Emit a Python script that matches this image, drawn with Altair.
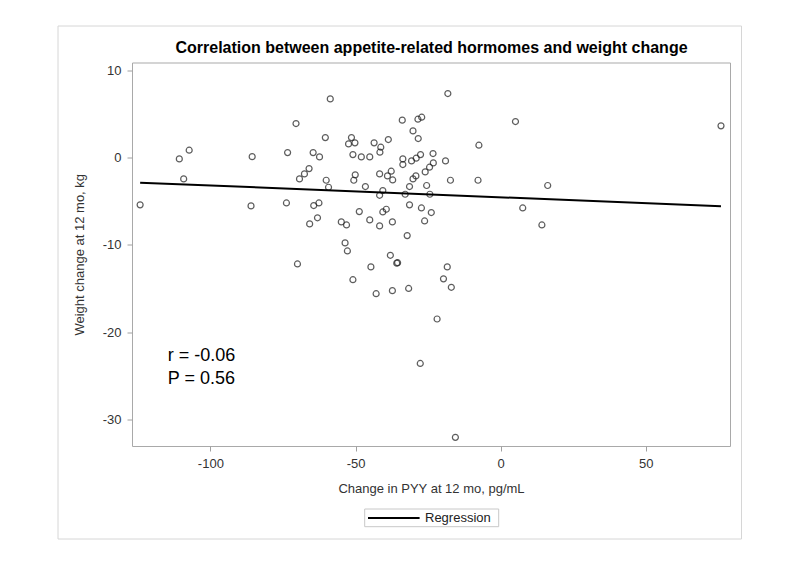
import altair as alt
import pandas as pd

# PYY change (x) and weight change (y)
pyy = [-124.2, -110.7, -107.3, -109.2, -85.6, -86.0, -70.5, -73.4, -73.8, -58.7,
       -60.4, -64.6, -62.4, -66.0, -67.6, -69.3, -60.1, -59.3, -64.4, -62.6,
       -63.1, -65.8,
       -18.2, -33.9, -28.5, -27.2, 5.1, -30.2, -28.4, -51.4, -52.4, -50.2,
       -43.6, -41.3, -38.7, -41.6, -50.9, -48.0, -45.1, -7.5, -33.7, -33.7,
       -30.7, -29.1, -27.6, -23.3, -19.0, -23.2, -24.5, -26.0, -37.7, -39.0,
       -37.2, -41.7, -50.1, -50.6, -29.2, -30.2, -17.3, -7.8, -46.6, -31.4,
       -25.5, -40.6, -41.7, -32.9, -24.4, -31.4, -27.3, -23.9, -48.7, -40.6,
       -39.4, 7.6, -45.1, -37.3, -26.2, -54.9, -53.1, -41.7, -32.2, -53.6,
       14.2, 16.2, 75.9,
       -70.0, -52.8, -44.7, -38.0, -35.8, -35.5, -50.9, -42.9, -37.3, -31.7,
       -21.9, -27.7,
       -18.4, -19.7, -17.0, -15.6]
weight = [-5.42, -0.15, 0.85, -2.44, 0.11, -5.54, 3.9, 0.57, -5.2, 6.73,
          2.29, 0.57, 0.08, -1.26, -1.87, -2.44, -2.6, -3.4, -5.5, -5.2,
          -6.9, -7.6,
          7.34, 4.29, 4.4, 4.63, 4.13, 3.06, 2.18, 2.29, 1.57, 1.69,
          1.69, 1.19, 2.07, 0.62, 0.34, 0.08, 0.08, 1.42, -0.15, -0.8,
          -0.38, -0.07, 0.34, 0.46, -0.38, -0.61, -1.1, -1.64, -1.56, -2.1,
          -2.56, -1.87, -1.98, -2.6, -2.1, -2.44, -2.6, -2.6, -3.32, -3.32,
          -3.2, -3.78, -4.32, -4.2, -4.2, -5.42, -5.77, -6.3, -6.19, -6.23,
          -5.92, -5.77, -7.14, -7.37, -7.26, -7.37, -7.72, -7.83, -8.94, -9.78,
          -7.72, -3.2, 3.64,
          -12.19, -10.7, -12.53, -11.2, -12.1, -12.05, -14.0, -15.6, -15.25, -15.0,
          -18.5, -23.6,
          -12.53, -13.9, -14.87, -32.07]

# regression line end points
reg_x = [-124.2, 75.9]
reg_y = [-2.87, -5.58]

# annotation
note_text = ["r = -0.06", "P = 0.56"]
note_x = [-114.7, -114.7]
note_y = [-23.28, -25.95]

x_ticks = [-100, -50, 0, 50]
y_ticks = [-30, -20, -10, 0, 10]

title_text = "Correlation between appetite-related hormomes and weight change"
legend_label = "Regression"

FONT = "Liberation Sans"

pts = pd.DataFrame({"x": pyy, "y": weight})
reg = pd.DataFrame({"x": reg_x, "y": reg_y})
notes = pd.DataFrame({"x": note_x, "y": note_y, "t": note_text})
one = pd.DataFrame({"a": [0]})

xs = alt.Scale(domain=[-127, 79], nice=False, zero=False)
ys = alt.Scale(domain=[-33.06, 10.9], nice=False, zero=False)

common = dict(grid=False, domain=False, tickSize=5, tickColor="#a0a0a0",
              labelPadding=6, labelFont=FONT, labelFontSize=13, labelColor="#333",
              titleFont=FONT, titleFontSize=13, titleColor="#333",
              titleFontWeight="normal", labelExpr="'' + datum.value")

xax = alt.Axis(values=x_ticks, title="Change in PYY at 12 mo, pg/mL",
               titlePadding=12, **common)
yax = alt.Axis(values=y_ticks, title="Weight change at 12 mo, kg",
               titlePadding=16, **common)

points = alt.Chart(pts).mark_point(shape="circle", filled=False, size=36,
                                   strokeWidth=1.2, color="#1a1a1a").encode(
    x=alt.X("x:Q", scale=xs, axis=xax),
    y=alt.Y("y:Q", scale=ys, axis=yax),
)

line = alt.Chart(reg).mark_line(strokeWidth=2, color="black").encode(
    x=alt.X("x:Q", scale=xs),
    y=alt.Y("y:Q", scale=ys),
)

text = alt.Chart(notes).mark_text(align="left", baseline="alphabetic", fontSize=18,
                                  font=FONT, color="black").encode(
    x=alt.X("x:Q", scale=xs),
    y=alt.Y("y:Q", scale=ys),
    text="t:N",
)

border = alt.Chart(one).mark_rect(fill=None, stroke="#d6d6d6", strokeWidth=1).encode(
    x=alt.value(-74), x2=alt.value(609.5), y=alt.value(-36.5), y2=alt.value(476.5)
)

title = alt.Chart(one).mark_text(align="center", baseline="middle", fontSize=16,
                                 font=FONT, fontWeight="bold", color="black").encode(
    x=alt.value(299.5), y=alt.value(-14.5), text=alt.value(title_text)
)

leg_box = alt.Chart(one).mark_rect(fill="white", stroke="#c8c8c8", strokeWidth=1).encode(
    x=alt.value(232.7), x2=alt.value(366.7), y=alt.value(446.5), y2=alt.value(464.2)
)
leg_line = alt.Chart(one).mark_rule(color="black", strokeWidth=2).encode(
    x=alt.value(236), x2=alt.value(287.6), y=alt.value(455.4)
)
leg_text = alt.Chart(one).mark_text(align="left", baseline="middle", fontSize=13,
                                    font=FONT, color="#222").encode(
    x=alt.value(293), y=alt.value(455.8), text=alt.value(legend_label)
)

chart = alt.layer(border, title, points, line, text, leg_box, leg_line, leg_text).properties(
    width=598, height=383.5,
    autosize=alt.AutoSizeParams(type="none"),
    padding={"left": 124, "top": 54.5, "right": 20, "bottom": 100},
).configure_view(stroke="#a9a9a9", strokeWidth=1)

chart.save("out.html", embed_options={"renderer": "svg", "actions": False})
